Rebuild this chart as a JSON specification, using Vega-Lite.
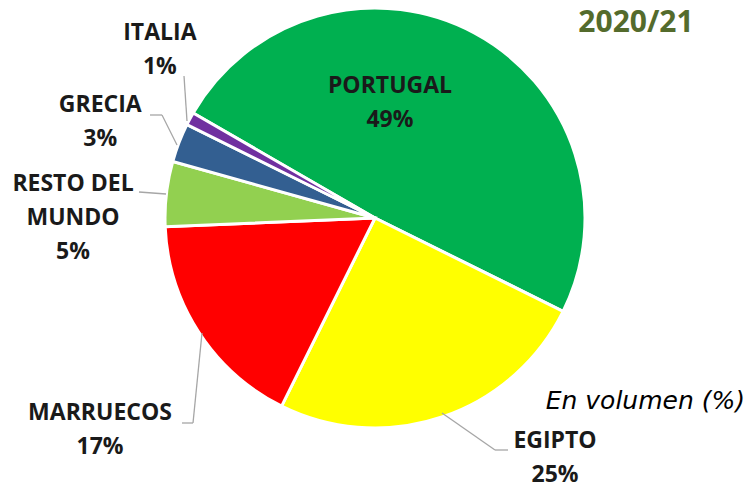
{
  "$schema": "https://vega.github.io/schema/vega-lite/v6.json",
  "width": 750,
  "height": 436,
  "padding": {"top": 0, "left": 0, "right": 0, "bottom": 54},
  "autosize": {"type": "none"},
  "background": "white",
  "config": {"view": {"stroke": null}},
  "data": {
    "values": [
      {"pais": "PORTUGAL", "valor": 49},
      {"pais": "EGIPTO", "valor": 25},
      {"pais": "MARRUECOS", "valor": 17},
      {"pais": "RESTO DEL MUNDO", "valor": 5},
      {"pais": "GRECIA", "valor": 3},
      {"pais": "ITALIA", "valor": 1}
    ]
  },
  "transform": [
    {"calculate": "indexof(['PORTUGAL','EGIPTO','MARRUECOS','RESTO DEL MUNDO','GRECIA','ITALIA'], datum.pais)", "as": "i"},
    {"calculate": "replace(datum.pais, 'RESTO DEL ', 'RESTO DEL\\n') + '\\n' + datum.valor + '%'", "as": "etiqueta"}
  ],
  "layer": [
    {
      "mark": {"type": "arc", "outerRadius": 210, "stroke": "white", "strokeWidth": 3},
      "encoding": {
        "theta": {"field": "valor", "type": "quantitative", "stack": true, "scale": {"range": [-1.047, 5.236]}},
        "order": {"field": "valor", "type": "quantitative", "sort": "descending"},
        "color": {
          "field": "pais", "type": "nominal", "legend": null,
          "scale": {
            "domain": ["PORTUGAL", "EGIPTO", "MARRUECOS", "RESTO DEL MUNDO", "GRECIA", "ITALIA"],
            "range": ["#00b050", "#ffff00", "#ff0000", "#92d050", "#335f91", "#7030a0"]
          }
        }
      }
    },
    {
      "transform": [{"filter": "datum.pais != 'PORTUGAL'"}],
      "mark": {"type": "rule", "color": "#a6a6a6", "strokeWidth": 1.3},
      "encoding": {
        "x": {"value": {"expr": "[0,442,193,139,162,184][datum.i]"}},
        "y": {"value": {"expr": "[0,413,423,192,115,76][datum.i]"}},
        "x2": {"value": {"expr": "[0,495,202,166,177,187][datum.i]"}},
        "y2": {"value": {"expr": "[0,450,333,194,145,121][datum.i]"}}
      }
    },
    {
      "transform": [{"filter": "datum.pais == 'EGIPTO' || datum.pais == 'MARRUECOS' || datum.pais == 'GRECIA'"}],
      "mark": {"type": "rule", "color": "#a6a6a6", "strokeWidth": 1.3},
      "encoding": {
        "x": {"value": {"expr": "[0,495,182,0,150,0][datum.i]"}},
        "y": {"value": {"expr": "[0,450,423,0,115,0][datum.i]"}},
        "x2": {"value": {"expr": "[0,508,193,0,162,0][datum.i]"}},
        "y2": {"value": {"expr": "[0,450,423,0,115,0][datum.i]"}}
      }
    },
    {
      "mark": {
        "type": "text", "font": "Open Sans", "fontWeight": "bold", "fontSize": 23,
        "lineHeight": 34, "lineBreak": "\n", "align": "center", "baseline": "middle",
        "color": "#1a1a1a",
        "dy": {"expr": "datum.i == 3 ? -34 : -17"},
        "radius": {"expr": "[116,300,347,302,291,273][datum.i]"},
        "thetaOffset": {"expr": "[-0.363,-0.319,-0.080,-0.115,-0.031,0.171][datum.i]"}
      },
      "encoding": {
        "theta": {"field": "valor", "type": "quantitative", "stack": true, "scale": {"range": [-1.047, 5.236]}},
        "order": {"field": "valor", "type": "quantitative", "sort": "descending"},
        "text": {"field": "etiqueta", "type": "nominal"}
      }
    },
    {
      "data": {"values": [{"t": "2020/21"}]},
      "mark": {"type": "text", "x": 636, "y": 23, "font": "Open Sans", "fontWeight": "bold", "fontSize": 30, "color": "#546b2c", "align": "center", "baseline": "middle"},
      "encoding": {"text": {"field": "t", "type": "nominal"}}
    },
    {
      "data": {"values": [{"t": "En volumen (%)"}]},
      "mark": {"type": "text", "x": 745, "y": 401, "font": "DejaVu Sans", "fontStyle": "italic", "fontSize": 25, "color": "#000000", "align": "right", "baseline": "middle"},
      "encoding": {"text": {"field": "t", "type": "nominal"}}
    }
  ]
}
